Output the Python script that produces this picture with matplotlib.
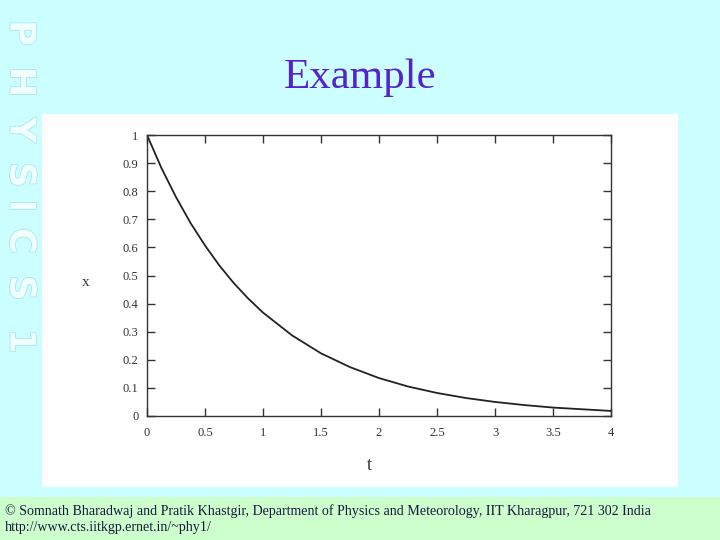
import matplotlib
matplotlib.use("Agg")
import matplotlib.pyplot as plt
import matplotlib.patheffects as pe
from matplotlib.patches import Rectangle

# Data
t_vals = [0.0, 0.125, 0.25, 0.375, 0.5, 0.625, 0.75, 0.875, 1.0, 1.25, 1.5, 1.75,
          2.0, 2.25, 2.5, 2.75, 3.0, 3.25, 3.5, 3.75, 4.0]
x_vals = [1.0, 0.882, 0.779, 0.687, 0.607, 0.535, 0.472, 0.417, 0.368, 0.287, 0.223, 0.174,
          0.135, 0.105, 0.082, 0.064, 0.050, 0.039, 0.030, 0.024, 0.018]
x_ticks = [0, 0.5, 1, 1.5, 2, 2.5, 3, 3.5, 4]
x_tick_labels = ["0", "0.5", "1", "1.5", "2", "2.5", "3", "3.5", "4"]
y_ticks = [0, 0.1, 0.2, 0.3, 0.4, 0.5, 0.6, 0.7, 0.8, 0.9, 1.0]
y_tick_labels = ["0", "0.1", "0.2", "0.3", "0.4", "0.5", "0.6", "0.7", "0.8", "0.9", "1"]
side_letters = ["P", "H", "Y", "S", "I", "C", "S", "1"]
side_letter_y = [33, 82, 130, 175, 206, 241, 288, 341]

W, H = 720, 540
fig = plt.figure(figsize=(7.2, 5.4), dpi=100)
fig.patch.set_facecolor("#CCFFFF")

def fx(px):
    return px / W

def fy(py):
    return 1 - py / H

# footer band
fig.patches.append(Rectangle((0, 0), 1, fy(497), transform=fig.transFigure,
                             facecolor="#CCFFCC", edgecolor="none", zorder=-5))
# white panel
fig.patches.append(Rectangle((fx(42), fy(487)), fx(678 - 42), (487 - 114) / H,
                             transform=fig.transFigure, facecolor="white",
                             edgecolor="none", zorder=-5))

# Vertical PHYSICS 1 text, letter by letter
for ch, py in zip(side_letters, side_letter_y):
    fig.text(fx(20.5), fy(py), ch, rotation=270, ha="center", va="center",
             fontsize=25.5, fontweight="bold", family="DejaVu Sans", color="#F2FFFF",
             path_effects=[pe.withStroke(linewidth=1.2, foreground="#A8E6EC")])

# Title
fig.text(fx(360), fy(78), "Example", ha="center", va="center",
         fontsize=31, family="Liberation Serif", color="#5522CC")

# Axes
ax = fig.add_axes([fx(147), fy(416), fx(611 - 147), (416 - 135) / H])
ax.set_zorder(5)
ax.set_facecolor("white")
ax.plot(t_vals, x_vals, color="#222222", linewidth=1.3)
ax.set_xlim(0, 4)
ax.set_ylim(0, 1)
ax.set_xticks(x_ticks)
ax.set_xticklabels(x_tick_labels)
ax.set_yticks(y_ticks)
ax.set_yticklabels(y_tick_labels)
ax.tick_params(direction="in", length=6, width=1, color="#333333",
               top=True, right=True, labelsize=9, labelcolor="#333333")
ax.tick_params(axis="x", pad=8)
ax.tick_params(axis="y", pad=6)
for lab in ax.get_xticklabels() + ax.get_yticklabels():
    lab.set_family("Liberation Serif")
for sp in ax.spines.values():
    sp.set_color("#333333")
    sp.set_linewidth(1.0)

fig.text(fx(86), fy(283), "x", ha="center", va="center", fontsize=11,
         family="Liberation Serif", color="#333333")
fig.text(fx(369), fy(466), "t", ha="center", va="center", fontsize=13,
         family="Liberation Serif", color="#333333")

# Footer text
fig.text(fx(5), fy(511), "\u00a9 Somnath Bharadwaj and Pratik Khastgir, Department of Physics and Meteorology, IIT Kharagpur, 721 302 India",
         ha="left", va="center", fontsize=10.1, family="Liberation Serif", color="#1a1a40")
fig.text(fx(5), fy(528), "http://www.cts.iitkgp.ernet.in/~phy1/",
         ha="left", va="center", fontsize=10.1, family="Liberation Serif", color="#1a1a40")

fig.savefig("out.png", dpi=100, facecolor=fig.get_facecolor())
